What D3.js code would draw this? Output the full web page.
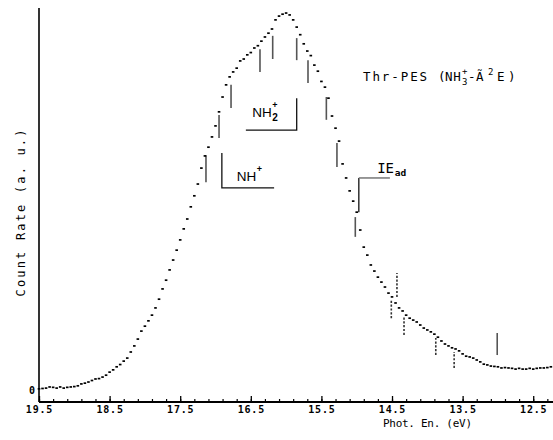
<!DOCTYPE html>
<html>
<head>
<meta charset="utf-8">
<script src="https://cdn.jsdelivr.net/npm/d3@7"></script>
<style>
  html, body { margin: 0; padding: 0; background: #fff; }
  svg { display: block; }
  .mono { font-family: "DejaVu Sans Mono", monospace; fill: #000; }
  .sans { font-family: "Liberation Sans", Arial, sans-serif; fill: #000; }
</style>
</head>
<body>
<svg id="chart" width="553" height="440"></svg>
<script>
// Threshold photoelectron spectrum, NH3+ band, count rate vs photon energy
const eStart = 19.5;   // first channel (eV)
const eStep = 0.05;    // channel width (eV), energy decreases to the right

// Count rate per channel (arbitrary units)
const counts = [
  3, 4, 5, 8, 7, 5, 8, 5, 7, 8,
  9, 11, 16, 18, 21, 25, 29, 30, 34, 39,
  47, 53, 61, 67, 76, 84, 100, 116, 134, 155,
  168, 182, 197, 216, 239, 266, 289, 316, 342, 368,
  395, 424, 450, 482, 511, 542, 584, 616, 639, 666,
  695, 732, 771, 803, 824, 837, 847, 866, 871, 882,
  888, 900, 906, 918, 929, 939, 950, 974, 984, 989,
  992, 987, 974, 955, 935, 911, 892, 880, 855, 839,
  812, 797, 768, 721, 689, 655, 595, 558, 524, 497,
  468, 421, 376, 355, 329, 313, 297, 284, 271, 255,
  245, 229, 216, 208, 197, 189, 184, 179, 171, 163,
  158, 153, 147, 139, 129, 121, 116, 111, 108, 103,
  95, 89, 87, 84, 79, 74, 68, 66, 63, 62,
  61, 58, 59, 58, 57, 55, 57, 55, 55, 57,
  55, 57, 58, 58, 59, 61, 61
];

// Vibrational progression markers: energy (eV), lower / upper count, dashed flag
const markerE      = [17.135, 16.95, 16.78, 16.37, 16.19, 15.85, 15.69, 15.43, 15.28, 15.02, 14.51, 14.43, 14.33, 13.88, 13.62, 13.01];
const markerLo     = [547, 663, 742, 837, 871, 868, 808, 711, 587, 403, 189, 245, 145, 92, 58, 92];
const markerHi     = [618, 724, 803, 897, 932, 926, 868, 771, 650, 455, 237, 308, 192, 137, 100, 150];
const markerDashed = [0, 0, 0, 0, 0, 0, 0, 0, 0, 0, 1, 1, 1, 1, 1, 0];

// Onset brackets (energy, count) for fragment and adiabatic IE annotations
const bracketNH2 = [[15.85, 768], [15.85, 684], [16.57, 684]];
const bracketNH  = [[16.91, 624], [16.91, 532], [16.17, 532]];
const bracketIE  = [[14.97, 468], [14.97, 558], [14.53, 558]];

// Axis ticks
const majorTicks = [19.5, 18.5, 17.5, 16.5, 15.5, 14.5, 13.5, 12.5];
const minorTicks = d3.range(0, 37).map(i => +(19.5 - i * 0.2).toFixed(1));
const yTicks = [0];

const svg = d3.select("#chart");
const axisY = 402;

const x = d3.scaleLinear().domain([19.5, 12.2]).range([39, 554.4]);
const y = d3.scaleLinear().domain([0, 1000]).range([390, 10]);

const data = counts.map((c, i) => ({ e: eStart - i * eStep, c }));

// Progression markers
svg.append("g").selectAll("line")
  .data(markerE.map((e, i) => ({ e, lo: markerLo[i], hi: markerHi[i], dashed: markerDashed[i] })))
  .join("line")
  .attr("x1", d => x(d.e)).attr("x2", d => x(d.e))
  .attr("y1", d => y(d.lo)).attr("y2", d => y(d.hi))
  .attr("stroke", d => d.dashed ? "#333" : "#555")
  .attr("stroke-width", 1.6)
  .attr("stroke-dasharray", d => d.dashed ? "2.2,1.6" : null);

// Annotation brackets
const bline = d3.line().x(d => x(d[0])).y(d => y(d[1]));
svg.append("path").attr("d", bline(bracketNH2)).attr("fill", "none").attr("stroke", "#111").attr("stroke-width", 1.3);
svg.append("path").attr("d", bline(bracketNH)).attr("fill", "none").attr("stroke", "#111").attr("stroke-width", 1.3);
svg.append("path").attr("d", bline(bracketIE.slice(0, 2))).attr("fill", "none").attr("stroke", "#111").attr("stroke-width", 1.3);
svg.append("path").attr("d", bline(bracketIE.slice(1))).attr("fill", "none").attr("stroke", "#777").attr("stroke-width", 1.5);

// Spectrum points
svg.append("g").selectAll("rect")
  .data(data)
  .join("rect")
  .attr("x", d => x(d.e) - 1.3)
  .attr("y", d => y(d.c) - 0.85)
  .attr("width", 2.6)
  .attr("height", 1.7)
  .attr("fill", "#000");

// X axis: minor and major ticks pointing inward
const gx = svg.append("g").attr("transform", `translate(0,${axisY})`);
gx.append("g")
  .call(d3.axisBottom(x).tickValues(minorTicks).tickSizeInner(-3).tickSizeOuter(0).tickFormat(""))
  .call(g => g.select(".domain").remove())
  .call(g => g.selectAll(".tick line").attr("stroke", "#000").attr("stroke-width", 1.2));
gx.append("g")
  .call(d3.axisBottom(x).tickValues(majorTicks).tickSizeInner(-6).tickSizeOuter(0).tickPadding(4).tickFormat(d3.format(".1f")))
  .call(g => g.select(".domain").remove())
  .call(g => g.selectAll(".tick line").attr("stroke", "#000").attr("stroke-width", 1.3))
  .call(g => g.selectAll(".tick text")
    .attr("class", "mono")
    .style("font-size", "10px")
    .style("font-weight", "bold")
    .style("letter-spacing", "0.8px")
    .attr("fill", "#000"));
gx.append("line")
  .attr("x1", x(19.5)).attr("x2", 553)
  .attr("y1", 0).attr("y2", 0)
  .attr("stroke", "#000").attr("stroke-width", 2);

// Y axis: plain line with zero label
svg.append("line")
  .attr("x1", x(19.5)).attr("x2", x(19.5))
  .attr("y1", 8).attr("y2", axisY)
  .attr("stroke", "#000").attr("stroke-width", 1.6);
svg.append("g")
  .attr("transform", `translate(${x(19.5)},0)`)
  .call(d3.axisLeft(y).tickValues(yTicks).tickSize(0).tickPadding(4).tickFormat(d3.format("d")))
  .call(g => g.select(".domain").remove())
  .call(g => g.selectAll(".tick text").attr("class", "mono").style("font-size", "10px").style("font-weight", "bold").attr("fill", "#000"));

// Axis titles
svg.append("text").attr("class", "mono")
  .attr("transform", "translate(25,213) rotate(-90)")
  .attr("text-anchor", "middle")
  .attr("textLength", 167).attr("lengthAdjust", "spacing")
  .style("font-size", "12px")
  .text("Count Rate (a. u.)");

svg.append("text").attr("class", "mono")
  .attr("x", 383).attr("y", 427)
  .attr("textLength", 89).attr("lengthAdjust", "spacing")
  .style("font-size", "11px")
  .text("Phot. En.  (eV)");

// Spectrum title
const title = svg.append("g").attr("class", "mono").style("font-size", "12.5px");
const tAt = (s, px, py, fs, ls) => title.append("text")
  .attr("x", px).attr("y", py)
  .style("font-size", fs ? fs + "px" : null)
  .style("letter-spacing", ls != null ? ls + "px" : "1.9px")
  .text(s);
tAt("Thr-PES", 363, 80.5);
tAt("(", 438, 80.5, null, 0);
tAt("NH", 445, 80.5, null, 0.6);
tAt("3", 462, 84.5, 9, 0);
tAt("+", 462, 73.5, 9, 0);
tAt("-", 468, 80.5, null, 0);
tAt("\u00C3", 476, 80.5, null, 0);
tAt("2", 488, 75, 9, 0);
tAt("E", 497, 80.5, null, 0);
tAt(")", 508, 80.5, null, 0);

// Fragment labels
const lab = (parts) => {
  const t = svg.append("text");
  parts.forEach(p => t.append("tspan")
    .attr("class", p.cls)
    .attr("x", p.x).attr("y", p.y)
    .style("font-size", p.fs + "px")
    .style("font-weight", p.fw || null)
    .text(p.s));
};
lab([
  { s: "NH", x: x(16.48), y: y(718), fs: 13.5, cls: "sans" },
  { s: "2", x: x(16.48) + 20, y: y(718) + 4, fs: 10, cls: "sans", fw: "bold" },
  { s: "+", x: x(16.48) + 20, y: y(718) - 9, fs: 9, cls: "sans", fw: "bold" }
]);
lab([
  { s: "NH", x: x(16.70), y: y(550), fs: 13.5, cls: "sans" },
  { s: "+", x: x(16.70) + 20, y: y(550) - 9, fs: 9, cls: "sans", fw: "bold" }
]);
lab([
  { s: "IE", x: x(14.71), y: y(571), fs: 14, cls: "mono" },
  { s: "ad", x: x(14.71) + 17.5, y: y(571) + 2.5, fs: 9.5, cls: "mono", fw: "bold" }
]);
</script>
</body>
</html>
